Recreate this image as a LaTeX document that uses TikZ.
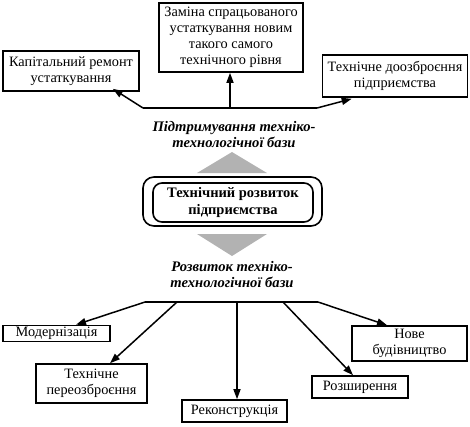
\documentclass[tikz,border=0pt]{standalone}
\usepackage{fontspec}
\setmainfont{Liberation Serif}
\usetikzlibrary{arrows.meta,calc}
\begin{document}
\begin{tikzpicture}[x=1pt,y=-1pt,
  box/.style={draw,line width=1.6pt,align=center,inner sep=0.5pt,font=\fontsize{14.3}{16}\selectfont},
  lbl/.style={align=center,font=\fontsize{14.6}{16}\selectfont\bfseries\itshape},
  conn/.style={line width=1.5pt},
  arr/.style={line width=1.5pt,-{Triangle[length=10pt,width=7pt]}},
  trifill/.style={fill=black!30}]
\useasboundingbox (0,0) rectangle (470,426);
% top group
\node[box,minimum width=136pt,minimum height=40pt] (kap) at (71,71) {Капітальний ремонт\\устаткування};
\node[box,minimum width=144pt,minimum height=69pt] (zam) at (231,37.5) {Заміна спрацьованого\\устаткування новим\\такого самого\\технічного рівня};
\node[box,minimum width=145pt,minimum height=42pt] (dooz) at (395,76) {Технічне доозброєння\\підприємства};
\coordinate (tl) at (143,108);
\coordinate (tr) at (317,108);
\coordinate (tc) at (230,108);
\draw[conn] (tl) -- (tr);
\draw[arr] (tl) -- ([xshift=-27pt,yshift=3pt]kap.south east);
\draw[arr] (tr) -- ([xshift=30pt,yshift=-1pt]dooz.south west);
\draw[arr] (tc) -- (zam.south -| tc);
\node[lbl] (l1) at (234,135) {Підтримування техніко-\\технологічної бази};
% centre
\fill[trifill] (197,173) -- (267,173) -- (232,152) -- cycle;
\node[draw,line width=1.6pt,rounded corners=11pt,minimum width=179pt,minimum height=49pt] (outer) at (232.5,201.5) {};
\node[draw,line width=1.6pt,rounded corners=9pt,minimum width=160pt,minimum height=39pt,align=center,inner sep=0.5pt,font=\fontsize{14.5}{17}\selectfont\bfseries] (core) at (233,202.5) {Технічний розвиток\\підприємства};
\fill[trifill] (197,234) -- (267,234) -- (232,256) -- cycle;
\node[lbl] (l2) at (232,275) {Розвиток техніко-\\технологічної бази};
% bottom group
\node[box,minimum width=107pt,minimum height=16pt] (mod) at (56.5,333.5) {Модернізація};
\node[box,minimum width=111pt,minimum height=39pt] (per) at (91.5,383.5) {Технічне\\переозброєння};
\node[box,minimum width=105pt,minimum height=22pt] (rek) at (234.5,411) {Реконструкція};
\node[box,minimum width=96pt,minimum height=22pt] (roz) at (360,387) {Розширення};
\node[box,minimum width=115pt,minimum height=35pt] (nov) at (409.5,343.5) {Нове\\будівництво};
\coordinate (bl) at (145,302);
\coordinate (br) at (318,302);
\coordinate (b2) at (177,302);
\coordinate (b3) at (237,302);
\coordinate (b4) at (283,302);
\draw[conn] (bl) -- (br);
\draw[arr] (bl) -- ([xshift=19.5pt]mod.north);
\draw[arr] (b2) -- ([xshift=18.5pt]per.north);
\draw[arr] (b3) -- (rek.north -| b3);
\draw[arr] (b4) -- ([xshift=-7pt]roz.north);
\draw[arr] (br) -- ([xshift=-22.5pt]nov.north);
\end{tikzpicture}
\end{document}
